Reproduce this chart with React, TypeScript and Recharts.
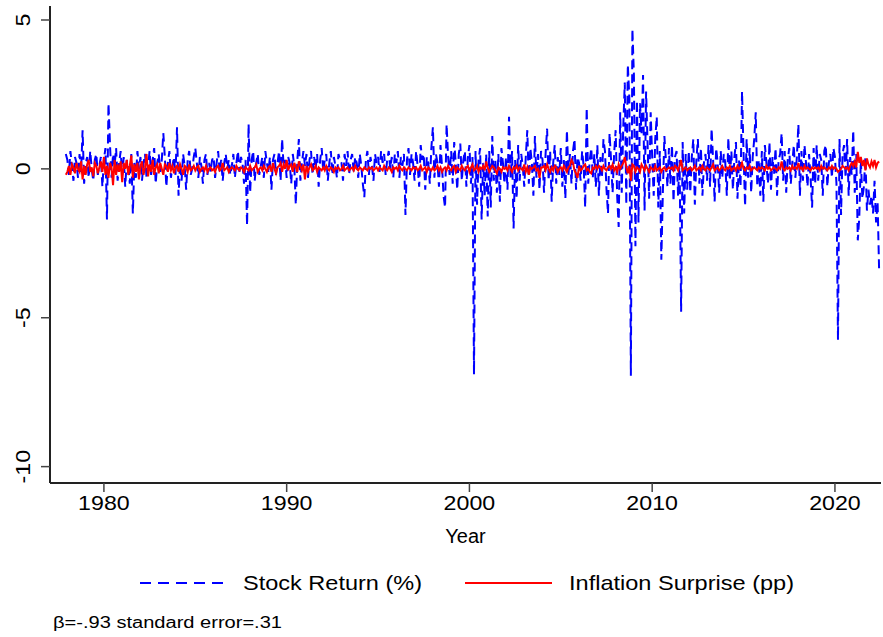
import React from 'react';
import { LineChart, Line, XAxis, YAxis, Label } from 'recharts';

// monthly observations, Dec 1977 .. Jun 2022
const startYear = 1977 + 11 / 12;

const stock70s = [
  0.5,
  0.3, -0.2, 0.6, 0.1, -0.4, 0.4, 0.2, -0.3, 0.5, -0.1, 1.3, -0.5,
  0.2, 0.4, -0.3, 0.6, 0.0, -0.4, 0.3, 0.5, -0.2, 0.1, 0.4, -0.6,
];
const stock80s = [
  0.3, 0.7, -1.7, 2.2, 0.8, -0.3, 0.5, 0.1, 0.7, -0.4, 0.2, 0.6,
  -0.2, 0.4, -0.6, 0.3, 0.1, -0.5, 0.5, -1.5, 0.2, -0.3, 0.6, 0.0,
  0.4, -0.4, 0.2, 0.5, -0.3, 0.1, 0.6, -0.2, 0.3, 0.7, -0.5, 0.2,
  0.5, -0.1, 0.3, 1.2, 0.4, -0.6, 0.2, 0.6, -0.3, 0.1, 0.4, -0.2,
  1.4, -0.9, 0.2, -0.4, 0.5, 0.1, -0.7, 0.3, 0.6, -0.2, 0.0, 0.4,
  0.7, 0.2, -0.3, 0.4, 0.1, -0.5, 0.3, 0.5, -0.2, 0.2, -0.1, 0.3,
  0.4, -0.3, 0.2, 0.6, -0.1, 0.3, -0.4, 0.2, 0.5, 0.0, 0.3, -0.2,
  0.1, 0.5, -0.3, 0.2, 0.6, -0.1, 0.4, 0.2, -0.5, 0.3, -1.9, 1.5,
  -0.8, 0.3, 0.6, -0.4, 0.2, 0.5, -0.2, 0.1, 0.4, -0.3, 0.6, 0.2,
  -0.1, 0.4, -0.7, 0.3, 0.5, -0.2, 0.2, 0.6, -0.4, 1.0, 0.1, 0.3,
];
const stock90s = [
  -0.3, 0.4, 0.2, -0.5, 0.5, 0.1, -1.2, 0.3, 1.0, -0.4, 0.2, 0.6,
  0.1, 0.5, -0.3, 0.3, 0.6, -0.2, 0.4, 0.0, 0.5, -0.6, 0.3, 0.7,
  -0.1, 0.3, 0.5, -0.4, 0.2, 0.6, -0.2, 0.4, 0.1, -0.3, 0.5, 0.3,
  0.2, -0.4, 0.5, 0.1, 0.6, -0.2, 0.3, 0.5, -0.1, 0.4, 0.2, -0.3,
  0.5, 0.1, -0.5, -0.95, 0.3, 0.6, -0.2, 0.4, 0.1, -0.4, 0.5, 0.2,
  0.4, -0.1, 0.6, 0.2, 0.5, -0.2, 0.3, 0.6, 0.0, 0.4, -0.3, 0.5,
  0.2, 0.6, -0.3, 0.4, 0.1, 0.5, -1.55, 0.3, 0.7, -0.2, 0.5, 0.2,
  -0.4, 0.6, 0.1, -0.6, 0.8, 0.3, 0.5, -0.7, 0.4, 0.2, -0.5, 0.7,
  1.4, -0.3, 0.5, 0.2, -0.6, 0.8, 0.1, -0.9, -1.3, 1.5, 0.4, -0.2,
  0.6, -0.5, 0.9, 0.2, -0.7, 0.5, 0.85, -0.4, 0.3, 0.6, -0.6, 0.4,
];
const stock00s = [
  0.8, -0.5, 0.4, -6.9, 0.6, -1.2, 0.3, 0.7, -1.7, 0.2, -0.9, 0.5,
  -1.6, 0.6, -1.3, 1.1, -0.4, 0.3, -0.8, 0.5, -1.1, 0.7, 0.2, -0.5,
  0.4, -0.7, 1.75, -0.3, 0.6, -2.0, 0.3, -1.0, 0.8, -0.4, 0.5, 0.1,
  -0.6, 0.4, 1.3, -0.5, 0.7, 0.2, -0.9, 1.1, -0.3, 0.5, -0.7, 0.6,
  0.3, -0.8, 0.5, 1.35, -0.4, 0.6, -1.1, 0.2, 0.8, -0.5, 0.4, -0.2,
  0.7, -0.6, 0.3, -1.0, 1.3, -0.2, 0.5, -0.5, 0.6, 1.0, -0.7, 0.4,
  0.2, -0.4, 0.6, 0.1, -1.3, 2.05, -0.5, 0.3, 0.7, -0.3, 0.5, -0.6,
  0.8, -0.9, 0.4, -0.3, 1.0, 0.6, -0.7, -1.5, 1.2, 0.3, -0.8, 0.5,
  1.3, -0.9, -1.95, 1.9, -0.8, 1.4, 2.9, -1.2, 3.5, 2.4, -6.95, 4.7,
  3.15, -2.6, 2.3, -1.8, 2.2, 1.2, 3.15, -1.4, 2.6, 0.8, -1.0, 1.9,
];
const stock10s = [
  0.4, -0.9, 1.0, 1.75, -1.3, 0.6, -3.05, -0.8, 1.1, 0.3, -0.6, 0.7,
  -0.5, 0.8, -1.1, 0.4, 0.6, -0.9, 0.3, -4.8, 0.9, -1.5, 0.5, -0.7,
  0.6, -0.8, 0.4, 1.0, -1.2, 0.3, 1.0, -0.5, 0.7, -0.9, 0.2, 0.5,
  -0.4, 0.8, -0.6, 1.35, 0.3, -1.1, 0.7, 0.2, -0.8, 0.6, -0.3, 0.5,
  0.2, -0.9, 1.05, -0.4, 0.6, -0.7, 0.4, 0.9, -1.0, 0.3, -0.6, 2.6,
  0.5, -1.25, 1.0, -0.3, 0.7, -0.8, 0.4, 1.0, 1.9, -0.6, 0.3, -0.9,
  0.6, -1.1, 0.8, 0.2, -0.5, 0.9, -0.7, 0.4, -0.2, 0.7, -0.9, 0.3,
  0.5, 1.2, -0.4, 0.6, -0.8, 0.3, 0.7, -0.5, 0.2, 0.8, -0.3, 0.4,
  1.5, -0.9, 0.6, -0.4, 0.8, 0.2, -0.6, 0.5, -0.3, -1.3, 0.7, -0.5,
  0.8, -0.4, 0.5, 0.3, -0.9, 0.6, 0.8, -0.6, 0.2, 0.5, -0.3, 0.7,
];
const stock20s = [
  0.4, -0.5, -5.75, 1.0, -1.55, 0.5, 0.8, -0.3, 1.0, -0.9, 0.4, -0.2,
  1.3, -0.8, 0.5, -2.4, -1.6, 0.3, -1.0, -0.6, 0.4, -1.4, -0.7, -1.2,
  -0.9, -1.5, -0.4, -1.8, -1.1, -3.4,
];

const infl70s = [
  -0.2,
  -0.1, 0.1, -0.2, 0.15, 0.05, -0.15, 0.2, 0.0, -0.1, 0.25, -0.35, 0.1,
  -0.2, 0.15, 0.3, -0.1, 0.05, -0.25, 0.2, 0.1, -0.15, 0.05, 0.25, -0.1,
];
const infl80s = [
  0.4, -0.2, 0.1, -0.3, 0.2, 0.05, -0.55, 0.3, -0.2, 0.15, -0.1, 0.25,
  -0.45, 0.2, 0.0, 0.3, -0.2, 0.1, 0.45, -0.3, 0.15, -0.1, 0.2, -0.35,
  0.1, 0.25, -0.2, 0.05, 0.5, -0.25, 0.15, -0.1, 0.3, -0.2, 0.05, 0.15,
  -0.15, 0.2, 0.0, -0.2, 0.15, 0.1, -0.1, 0.2, -0.05, 0.1, -0.15, 0.05,
  0.1, -0.1, 0.15, 0.0, -0.2, 0.1, 0.05, -0.1, 0.15, -0.05, 0.0, 0.1,
  -0.05, 0.05, 0.1, -0.1, 0.0, 0.05, -0.05, 0.1, -0.1, 0.0, 0.05, -0.05,
  0.0, -0.1, 0.05, 0.1, -0.05, 0.0, 0.2, -0.05, 0.0, 0.05, -0.1, 0.0,
  0.05, 0.0, -0.05, 0.1, 0.0, -0.05, 0.05, 0.0, -0.1, 0.05, 0.0, -0.05,
  0.1, -0.05, 0.0, 0.05, 0.15, -0.1, 0.0, 0.05, -0.05, 0.1, 0.0, -0.1,
  0.05, 0.1, -0.1, 0.2, 0.0, -0.15, 0.05, 0.1, 0.2, -0.1, 0.15, 0.0,
];
const infl90s = [
  0.3, -0.05, 0.1, 0.15, -0.1, 0.2, 0.05, -0.1, 0.25, 0.1, -0.05, 0.15,
  -0.35, 0.1, -0.1, 0.05, 0.15, -0.05, 0.0, 0.1, -0.1, 0.05, 0.0, -0.05,
  0.05, -0.05, 0.1, 0.0, -0.05, 0.05, 0.0, -0.1, 0.05, 0.0, 0.05, -0.05,
  0.0, 0.1, -0.05, 0.0, 0.05, -0.05, 0.0, 0.05, -0.05, 0.1, 0.0, -0.05,
  0.05, 0.0, -0.05, 0.05, 0.0, -0.05, 0.05, 0.0, 0.05, -0.05, 0.0, 0.05,
  -0.05, 0.05, 0.0, -0.05, 0.1, 0.0, -0.05, 0.05, 0.0, -0.1, 0.05, 0.0,
  0.05, -0.05, 0.1, 0.0, -0.05, 0.05, 0.0, -0.05, 0.05, 0.0, -0.05, 0.05,
  0.0, 0.05, -0.05, 0.0, 0.1, -0.05, 0.0, 0.05, -0.1, 0.05, 0.0, -0.05,
  0.05, -0.05, 0.0, 0.1, -0.05, 0.05, -0.1, 0.0, 0.05, -0.05, 0.1, 0.0,
  -0.05, 0.05, 0.1, -0.1, 0.05, 0.0, -0.05, 0.1, 0.0, -0.05, 0.05, 0.1,
];
const infl00s = [
  -0.1, 0.05, 0.15, -0.05, 0.0, 0.1, -0.1, 0.05, 0.0, 0.1, -0.05, 0.25,
  0.05, -0.1, 0.0, 0.1, 0.05, -0.05, -0.15, 0.05, 0.0, -0.1, 0.05, 0.0,
  0.05, -0.05, 0.1, 0.0, -0.1, 0.05, 0.0, 0.1, -0.05, 0.05, 0.0, -0.05,
  0.15, -0.1, 0.05, -0.2, 0.05, 0.0, 0.05, 0.1, -0.05, 0.0, -0.3, 0.05,
  0.05, 0.1, -0.05, 0.15, 0.0, -0.1, 0.05, -0.05, 0.1, 0.05, -0.1, 0.0,
  0.05, -0.05, 0.1, 0.0, -0.1, 0.05, 0.1, 0.3, 0.2, -0.05, -0.15, -0.3,
  0.1, -0.05, 0.0, 0.1, 0.15, -0.05, 0.0, -0.1, -0.15, 0.05, 0.0, 0.1,
  0.0, 0.1, 0.05, -0.05, 0.1, 0.0, -0.05, 0.05, 0.1, 0.0, 0.15, -0.05,
  0.05, -0.1, 0.15, 0.0, 0.1, 0.2, 0.4, 0.05, -0.15, 0.1, -0.4, 0.15,
  0.1, -0.1, 0.05, 0.0, -0.1, 0.15, 0.05, -0.05, 0.1, 0.0, -0.1, 0.05,
];
const infl10s = [
  0.0, -0.05, 0.1, -0.05, 0.0, 0.05, -0.1, 0.0, 0.05, -0.05, 0.0, 0.05,
  0.0, 0.05, -0.05, 0.1, 0.05, -0.05, 0.1, 0.3, -0.05, 0.0, 0.05, -0.05,
  0.0, 0.05, -0.05, 0.0, 0.1, -0.05, 0.0, 0.05, -0.05, 0.1, 0.0, -0.05,
  0.05, 0.0, -0.05, 0.05, 0.15, -0.05, 0.0, 0.05, -0.05, 0.0, 0.1, 0.0,
  -0.05, 0.05, 0.0, 0.1, -0.05, 0.0, 0.05, -0.05, 0.1, 0.0, 0.05, 0.2,
  0.0, -0.05, 0.05, 0.0, 0.1, -0.05, 0.0, 0.05, 0.0, -0.05, 0.05, 0.0,
  0.05, 0.0, -0.05, 0.1, 0.0, 0.05, -0.05, 0.0, 0.05, 0.0, -0.05, 0.05,
  0.0, 0.25, 0.0, -0.05, 0.05, 0.0, 0.05, -0.05, 0.1, 0.0, 0.05, 0.0,
  0.2, 0.0, 0.05, -0.05, 0.1, 0.0, 0.05, 0.0, -0.05, 0.05, 0.0, 0.05,
  0.0, 0.05, -0.05, 0.1, 0.0, 0.05, 0.0, -0.05, 0.05, 0.0, 0.1, 0.0,
];
const infl20s = [
  0.05, 0.0, -0.1, -0.05, 0.0, 0.1, 0.05, 0.0, 0.05, -0.05, 0.1, 0.2,
  0.1, 0.25, 0.05, 0.57, 0.2, 0.4, 0.1, 0.3, -0.05, 0.35, 0.15, 0.05,
  0.25, 0.1, 0.3, 0.05, 0.2, 0.25,
];

const yearTicks = [1980, 1990, 2000, 2010, 2020];
const valueTicks = [-10, -5, 0, 5];

const stockReturn = [...stock70s, ...stock80s, ...stock90s, ...stock00s, ...stock10s, ...stock20s];
const inflSurprise = [...infl70s, ...infl80s, ...infl90s, ...infl00s, ...infl10s, ...infl20s];

const data = stockReturn.map((v, i) => ({
  year: startYear + i / 12,
  stock: v,
  infl: inflSurprise[i],
}));

const FONT = '"Liberation Sans", Arial, Helvetica, sans-serif';

// the original's type is a little wider than Liberation Sans, so stretch it
const stretched = (s: string, size: number) => {
  let w = 0;
  for (const ch of s) w += ch === '-' ? 0.333 : 0.556;
  return w * size * 1.16;
};

const RotatedTick = (props: any) => {
  const { x, y, payload } = props;
  const bx = x - 11;
  const s = String(payload.value);
  return (
    <text x={bx} y={y} transform={`rotate(-90 ${bx} ${y})`} textAnchor="middle"
      fontSize={20} fontFamily={FONT} fill="#000"
      textLength={stretched(s, 20)} lengthAdjust="spacingAndGlyphs">
      {s}
    </text>
  );
};

const YearTick = (props: any) => {
  const { x, y, payload } = props;
  const s = String(payload.value);
  return (
    <text x={x} y={y} dy="0.71em" textAnchor="middle" fontSize={20} fontFamily={FONT} fill="#000"
      textLength={stretched(s, 20)} lengthAdjust="spacingAndGlyphs">
      {s}
    </text>
  );
};

export default function App() {
  return (
    <div style={{ position: 'absolute', left: 0, top: 0, width: 883, height: 637, background: '#fff', fontFamily: FONT }}>
      <LineChart width={883} height={637} data={data}
        margin={{ top: 6, right: 2, left: 0, bottom: 94 }}>
        <XAxis xAxisId="top" orientation="top" type="number" dataKey="year"
          domain={[1977.05, 2022.52]} allowDataOverflow tick={false} tickLine={false}
          height={0} axisLine={{ stroke: '#777', strokeWidth: 2 }} />
        <XAxis type="number" dataKey="year" domain={[1977.05, 2022.52]} allowDataOverflow
          ticks={yearTicks} height={60} tickSize={9} tickMargin={4}
          axisLine={{ stroke: '#222', strokeWidth: 2 }} tickLine={{ stroke: '#444', strokeWidth: 1.5 }}
          tick={<YearTick />}>
          <Label value="Year" position="insideBottom" offset={0}
            style={{ fontSize: 20, fontFamily: FONT, fill: '#000' }} />
        </XAxis>
        <YAxis type="number" domain={[-10.55, 5.47]} allowDataOverflow ticks={valueTicks}
          width={50} tickSize={9} tickMargin={0} tick={<RotatedTick />}
          axisLine={{ stroke: '#222', strokeWidth: 2 }} tickLine={{ stroke: '#444', strokeWidth: 1.5 }} />
        <Line type="linear" dataKey="stock" stroke="#0000ff" strokeWidth={2}
          strokeDasharray="9 5" dot={false} isAnimationActive={false} xAxisId={0} />
        <Line type="linear" dataKey="infl" stroke="#ff0000" strokeWidth={2}
          dot={false} isAnimationActive={false} xAxisId={0} />
      </LineChart>

      <svg width={883} height={80} style={{ position: 'absolute', left: 0, top: 557 }}>
        <line x1={140} x2={228} y1={26} y2={26} stroke="#0000ff" strokeWidth={2} strokeDasharray="11 7" />
        <text x={243} y={33} fontSize={21} fontFamily={FONT} fill="#000"
          textLength={179} lengthAdjust="spacingAndGlyphs">Stock Return (%)</text>
        <line x1={465} x2={552} y1={26} y2={26} stroke="#ff0000" strokeWidth={2} />
        <text x={569} y={33} fontSize={21} fontFamily={FONT} fill="#000"
          textLength={225} lengthAdjust="spacingAndGlyphs">Inflation Surprise (pp)</text>
        <text x={53} y={71} fontSize={16} fontFamily={FONT} fill="#000"
          textLength={229} lengthAdjust="spacingAndGlyphs">β=-.93 standard error=.31</text>
      </svg>
    </div>
  );
}
